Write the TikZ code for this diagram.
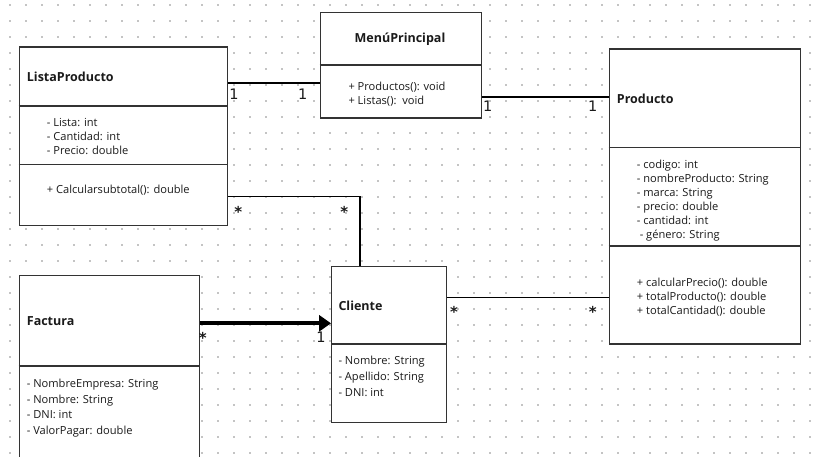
\documentclass[tikz,border=0pt]{standalone}
\usepackage{fontspec}
\newfontfamily\uifont{Open Sans}
\newfontfamily\symfont{DejaVu Sans}
\usetikzlibrary{arrows.meta}
\definecolor{boxc}{HTML}{333333}
\definecolor{dotc}{HTML}{C4C4C4}
\definecolor{txtc}{HTML}{1A1A1A}
\begin{document}
\begin{tikzpicture}[x=1pt,y=-1pt,
  box/.style={draw=boxc, line width=1.4pt, fill=white, anchor=north west, inner sep=0pt},
  divider/.style={draw=boxc, line width=1.4pt},
  conn/.style={draw=black, line width=1.6pt},
  bigarrow/.style={draw=black, line width=3.8pt, -{Triangle[length=12pt,width=16pt]}},
  title/.style={font=\uifont\bfseries\fontsize{12.5}{14}\selectfont, text=txtc, inner sep=0pt},
  attr/.style={font=\uifont\fontsize{11.1}{14}\selectfont, text=txtc, inner sep=0pt, align=left, anchor=west},
  attrw/.style={font=\uifont\fontsize{11.1}{15.7}\selectfont, text=txtc, inner sep=0pt, align=left, anchor=west},
  one/.style={font=\symfont\fontsize{14.5}{15}\selectfont, text=txtc, inner sep=0pt},
  star/.style={font=\symfont\bfseries\fontsize{15}{15}\selectfont, text=txtc, inner sep=0pt}]
\useasboundingbox (0,0) rectangle (820,457);
\clip (0,0) rectangle (820,457);
\fill[white] (0,0) rectangle (820,457);
\foreach \i in {0,...,50}{\foreach \j in {0,...,28}{
  \fill[dotc] ({10+16*\i-0.8},{5+16*\j-0.8}) rectangle +(1.6,1.6);}}

% class boxes
\node[box, minimum width=208.5pt, minimum height=178.5pt] (lp) at (18.5,46.5) {};
\node[box, minimum width=161pt, minimum height=105.5pt] (menu) at (319.5,12) {};
\node[box, minimum width=191pt, minimum height=295pt] (pr) at (608.5,48.5) {};
\node[box, minimum width=180.5pt, minimum height=195pt] (fa) at (18.5,275) {};
\node[box, minimum width=115pt, minimum height=155.5pt] (cl) at (331,266) {};

% compartments
\draw[divider] (lp.west |- 0,106) -- (lp.east |- 0,106);
\draw[divider] (lp.west |- 0,164.5) -- (lp.east |- 0,164.5);
\draw[divider] (menu.west |- 0,65) -- (menu.east |- 0,65);
\draw[divider] (pr.west |- 0,147.5) -- (pr.east |- 0,147.5);
\draw[divider] (pr.west |- 0,246) -- (pr.east |- 0,246);
\draw[divider] (fa.west |- 0,366) -- (fa.east |- 0,366);
\draw[divider] (cl.west |- 0,344) -- (cl.east |- 0,344);

% titles
\node[title, anchor=west] (lpT) at (26.7,76.7) {ListaProducto};
\node[title] (menuT) at (400,39.3) {MenúPrincipal};
\node[title, anchor=west] (prT) at (616.7,99) {Producto};
\node[title, anchor=west] (faT) at (26.7,320.7) {Factura};
\node[title, anchor=west] (clT) at (338.3,305.7) {Cliente};

% members
\node[attr] (lpA) at (46.7,136.8) {- Lista: int\\- Cantidad: int\\- Precio: double};
\node[attr] (lpM) at (46.7,190) {+ Calcularsubtotal(): double};
\node[attr] (menuM) at (348.3,94.3) {+ Productos(): void\\+ Listas():\ \ void};
\node[attr] (prA) at (636.7,200.2) {- codigo: int\\- nombreProducto: String\\- marca: String\\- precio: double\\- cantidad: int\\\ - género: String};
\node[attr] (prM) at (636.7,296.9) {+ calcularPrecio(): double\\+ totalProducto(): double\\+ totalCantidad(): double};
\node[attrw] (faA) at (26.7,408) {- NombreEmpresa: String\\- Nombre: String\\- DNI: int\\- ValorPagar: double};
\node[attrw] (clA) at (338.3,376.5) {- Nombre: String\\- Apellido: String\\- DNI: int};

% connectors
\draw[conn] (lp.east |- 0,83.3) -- (menu.west |- 0,83.3);
\draw[conn] (menu.east |- 0,97) -- (pr.west |- 0,97);
\draw[conn] (lp.east |- 0,196.7) -| ([xshift=29pt]cl.north west);
\draw[conn] (cl.east |- 0,297.5) -- (pr.west |- 0,297.5);
\draw[bigarrow] (fa.east |- 0,323.3) -- (cl.west |- 0,323.3);

% multiplicities
\node[one] (m1) at (234,94) {1};
\node[one] (m2) at (302.7,94) {1};
\node[one] (m3) at (487.7,106.7) {1};
\node[one] (m4) at (592.7,106.7) {1};
\node[star] (m5) at (238.3,211.5) {*};
\node[star] (m6) at (344.3,211.5) {*};
\node[star] (m7) at (202.7,338.2) {*};
\node[one] (m8) at (321,337.3) {1};
\node[star] (m9) at (454,312.2) {*};
\node[star] (m10) at (592.7,311.9) {*};
\end{tikzpicture}
\end{document}
